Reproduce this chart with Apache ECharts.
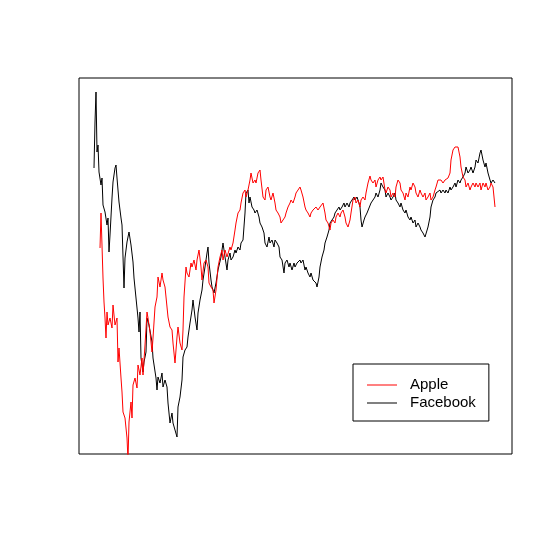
<!DOCTYPE html>
<html>
<head>
<meta charset="utf-8">
<script src="https://cdn.jsdelivr.net/npm/echarts@6/dist/echarts.min.js"></script>
<style>
  html, body { margin: 0; padding: 0; background: #fff; }
  #chart { width: 552px; height: 552px; }
</style>
</head>
<body>
<div id="chart"></div>
<script>
// time index (days) and price level
const fbDay = [94, 95, 96, 97, 98, 99, 101, 102, 103, 105, 107, 108, 109, 110, 112, 113, 115, 116, 117, 119,
  121, 122, 124, 125, 127, 129, 131, 133, 134, 136, 138, 139, 140, 141, 143, 144, 146, 147, 149, 152,
  153, 155, 156, 157, 158, 159, 160, 162, 163, 165, 167, 168, 170, 172, 173, 175, 177, 178, 180, 182,
  183, 185, 187, 188, 190, 192, 193, 195, 197, 198, 200, 202, 203, 205, 207, 208, 209, 211, 212, 214,
  216, 218, 221, 223, 225, 227, 228, 230, 231, 233, 235, 236, 238, 240, 241, 243, 245, 246, 248, 249,
  250, 252, 254, 255, 257, 259, 260, 262, 264, 265, 267, 269, 270, 272, 274, 275, 277, 279, 280, 282,
  284, 285, 287, 289, 290, 292, 294, 295, 297, 298, 300, 301, 303, 305, 306, 308, 310, 311, 313, 315,
  316, 317, 319, 320, 322, 324, 325, 327, 329, 330, 332, 334, 335, 337, 339, 340, 342, 344, 345, 347,
  349, 350, 352, 354, 355, 357, 359, 360, 361, 362, 364, 365, 367, 369, 370, 371, 373, 375, 376, 378,
  380, 381, 383, 385, 386, 388, 390, 391, 393, 395, 396, 398, 400, 401, 403, 405, 406, 408, 410, 411,
  413, 415, 416, 418, 420, 421, 423, 425, 426, 428, 430, 431, 433, 435, 436, 438, 440, 441, 443, 445,
  446, 448, 450, 451, 453, 455, 456, 458, 460, 461, 463, 465, 466, 468, 470, 471, 473, 475, 476, 478,
  480, 481, 483, 485, 486, 488, 490, 491, 493, 495]
const fbLevel = [286, 332, 362, 302, 309, 282, 269, 276, 249, 242, 229, 236, 202, 219, 256, 272, 286, 289, 276, 252,
  236, 229, 166, 196, 212, 222, 209, 192, 176, 156, 136, 122, 142, 96, 82, 92, 102, 136, 129, 112,
  96, 97, 76, 64, 77, 79, 71, 81, 67, 74, 67, 51, 31, 41, 31, 24, 17, 47, 57, 74,
  97, 104, 107, 117, 131, 144, 154, 137, 124, 141, 154, 164, 174, 187, 201, 207, 191, 174, 167, 161,
  171, 184, 197, 211, 197, 184, 194, 201, 194, 197, 204, 201, 207, 204, 211, 214, 241, 261, 264, 251,
  257, 247, 244, 241, 244, 237, 231, 227, 221, 211, 207, 217, 211, 214, 207, 214, 211, 207, 197, 194,
  181, 191, 194, 187, 191, 184, 191, 187, 191, 191, 194, 191, 194, 184, 187, 181, 177, 181, 174, 174,
  171, 167, 177, 187, 197, 204, 211, 217, 224, 231, 234, 237, 241, 244, 247, 244, 247, 251, 247, 251,
  247, 251, 254, 257, 254, 257, 251, 247, 234, 227, 234, 237, 241, 246, 247, 251, 254, 257, 261, 257,
  264, 271, 267, 264, 257, 261, 257, 254, 257, 261, 254, 251, 247, 251, 244, 241, 244, 237, 234, 237,
  231, 234, 227, 231, 227, 224, 221, 217, 219, 227, 237, 247, 254, 257, 261, 261, 264, 261, 264, 261,
  264, 261, 267, 264, 267, 271, 267, 274, 271, 274, 277, 281, 287, 281, 284, 287, 281, 287, 294, 291,
  301, 304, 294, 287, 291, 281, 274, 271, 274, 271]

const appleDay = [100, 101, 103, 104, 105, 106, 107, 108, 110, 112, 113, 115, 117, 118, 119, 121, 122, 123, 125, 127,
  128, 129, 131, 132, 133, 135, 137, 138, 140, 142, 143, 145, 147, 148, 150, 152, 153, 155, 157, 158,
  160, 162, 163, 165, 167, 168, 170, 172, 173, 175, 177, 178, 180, 182, 183, 184, 186, 187, 189, 191,
  192, 194, 196, 197, 199, 201, 202, 204, 206, 208, 209, 211, 213, 214, 216, 218, 220, 222, 223, 225,
  227, 228, 230, 231, 233, 235, 236, 238, 240, 241, 243, 245, 246, 248, 250, 251, 253, 255, 256, 258,
  260, 261, 263, 265, 266, 268, 270, 271, 273, 275, 276, 278, 280, 281, 283, 285, 286, 288, 290, 291,
  293, 295, 296, 298, 300, 301, 303, 305, 306, 308, 310, 311, 313, 315, 316, 318, 320, 321, 323, 325,
  326, 328, 330, 331, 333, 335, 336, 338, 340, 341, 343, 345, 346, 348, 350, 351, 353, 355, 356, 358,
  360, 361, 363, 365, 366, 368, 370, 371, 373, 375, 376, 378, 380, 381, 383, 385, 386, 388, 390, 391,
  393, 395, 396, 398, 400, 401, 403, 405, 406, 408, 410, 411, 413, 415, 416, 418, 420, 421, 423, 425,
  426, 428, 430, 431, 433, 435, 436, 438, 440, 441, 443, 445, 446, 448, 450, 451, 453, 455, 456, 458,
  460, 461, 463, 465, 466, 468, 470, 471, 473, 475, 476, 478, 480, 481, 483, 485, 486, 488, 490, 491,
  493, 495]
const appleLevel = [206, 241, 176, 152, 136, 116, 142, 129, 136, 126, 149, 129, 136, 92, 106, 76, 62, 42, 36, 16,
  -6, 32, 52, 36, 69, 76, 66, 89, 79, 96, 79, 109, 142, 136, 122, 102, 116, 147, 157, 177,
  167, 181, 174, 167, 147, 137, 127, 124, 111, 91, 117, 127, 111, 104, 124, 157, 187, 181, 177, 191,
  187, 194, 184, 194, 204, 187, 174, 191, 194, 187, 171, 167, 164, 151, 164, 187, 197, 204, 194, 204,
  197, 197, 207, 204, 211, 224, 231, 241, 244, 251, 261, 264, 257, 264, 274, 281, 271, 274, 271, 281,
  284, 274, 257, 254, 264, 267, 257, 254, 261, 251, 244, 241, 237, 231, 229, 237, 241, 247, 251, 254,
  251, 257, 261, 264, 267, 264, 257, 247, 244, 241, 237, 241, 244, 242, 247, 244, 247, 247, 251, 241,
  234, 231, 224, 231, 234, 231, 237, 241, 237, 241, 244, 237, 231, 227, 234, 241, 254, 257, 251, 254,
  247, 254, 257, 254, 261, 271, 278, 274, 271, 274, 267, 274, 277, 274, 277, 264, 261, 267, 264, 257,
  261, 257, 267, 274, 271, 264, 261, 254, 261, 257, 267, 264, 271, 267, 261, 257, 264, 261, 257, 261,
  254, 257, 261, 254, 257, 264, 267, 274, 272, 274, 271, 274, 272, 276, 281, 294, 304, 307, 309, 307,
  297, 287, 277, 274, 267, 271, 264, 267, 271, 267, 271, 267, 271, 264, 271, 267, 271, 264, 267, 271,
  267, 247]

const chart = echarts.init(document.getElementById('chart'))

const option = {
  animation: false,
  backgroundColor: '#fff',
  grid: {
    left: 79, top: 78, width: 433, height: 376,
    show: true, borderColor: '#000', borderWidth: 1, backgroundColor: 'transparent'
  },
  xAxis: { type: 'value', min: 79, max: 512, show: false },
  yAxis: { type: 'value', min: 0, max: 376, show: false },
  legend: {
    data: ['Apple', 'Facebook'],
    orient: 'vertical',
    left: 353, top: 364,
    padding: [12, 13, 9, 14],
    itemGap: 0,
    itemWidth: 30, itemHeight: 1,
    icon: 'rect',
    borderColor: '#000', borderWidth: 1, borderRadius: 0,
    textStyle: { fontFamily: 'Liberation Sans', fontSize: 15, color: '#000', lineHeight: 18, padding: [0, 0, 0, 8] }
  },
  series: [
    {
      name: 'Facebook', type: 'line', showSymbol: false,
      data: fbDay.map((d, i) => [d, fbLevel[i]]),
      lineStyle: { color: '#000', width: 1 }, itemStyle: { color: '#000' }
    },
    {
      name: 'Apple', type: 'line', showSymbol: false,
      data: appleDay.map((d, i) => [d, appleLevel[i]]),
      lineStyle: { color: '#ff0000', width: 1 }, itemStyle: { color: '#ff0000' }
    }
  ]
}

chart.setOption(option)
</script>
</body>
</html>
